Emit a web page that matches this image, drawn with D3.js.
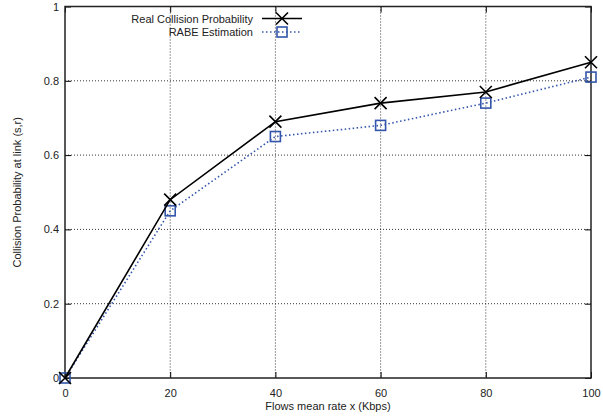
<!DOCTYPE html>
<html><head><meta charset="utf-8">
<script src="https://cdn.jsdelivr.net/npm/d3@7"></script>
<style>body{margin:0;background:#fff}svg{display:block;font-family:"Liberation Sans",Arial,sans-serif}</style>
</head><body><svg id="c" width="603" height="418"></svg>
<script>
const xValues = [0, 20, 40, 60, 80, 100];
const realProb = [0, 0.48, 0.69, 0.74, 0.77, 0.85];
const rabeEst = [0, 0.45, 0.65, 0.68, 0.74, 0.81];
const xTicks = [0, 20, 40, 60, 80, 100];
const yTicks = [0, 0.2, 0.4, 0.6, 0.8, 1];
const seriesNames = ["Real Collision Probability", "RABE Estimation"];

const svg = d3.select("#c");
const L = 65, R = 591, T = 6.5, B = 378;
const x = d3.scaleLinear().domain([0, 100]).range([L, R]);
const y = d3.scaleLinear().domain([0, 1]).range([B, T]);
const blue = "#3355aa";

// grid
const g = svg.append("g");
g.selectAll(".gx").data(xTicks.slice(1, -1)).join("line")
  .attr("x1", d => x(d)).attr("x2", d => x(d)).attr("y1", T).attr("y2", B)
  .attr("stroke", "#000").attr("stroke-width", 0.8).attr("stroke-dasharray", "1,2");
g.selectAll(".gy").data(yTicks.slice(1, -1)).join("line")
  .attr("y1", d => y(d)).attr("y2", d => y(d)).attr("x1", L).attr("x2", R)
  .attr("stroke", "#000").attr("stroke-width", 0.8).attr("stroke-dasharray", "1,2");

// axes with inward ticks
const ax = d3.axisBottom(x).tickValues(xTicks).tickSizeInner(-6).tickSizeOuter(0).tickPadding(11).tickFormat(d3.format("d"));
const ay = d3.axisLeft(y).tickValues(yTicks).tickSizeInner(-6).tickSizeOuter(0).tickPadding(6).tickFormat(d => d === 0 ? "0" : d === 1 ? "1" : d3.format(".1f")(d));
const axT = d3.axisTop(x).tickValues(xTicks).tickSizeInner(-6).tickSizeOuter(0).tickFormat("");
const ayR = d3.axisRight(y).tickValues(yTicks).tickSizeInner(-6).tickSizeOuter(0).tickFormat("");
function style(sel) {
  sel.select(".domain").remove();
  sel.selectAll("line").attr("stroke", "#000").attr("stroke-width", 1);
  sel.selectAll("text").attr("font-size", 11).attr("fill", "#222").attr("font-family", "Liberation Sans, Arial, sans-serif");
}
svg.append("g").attr("transform", `translate(0,${B})`).call(ax).call(style);
svg.append("g").attr("transform", `translate(${L},0)`).call(ay).call(style);
svg.append("g").attr("transform", `translate(0,${T})`).call(axT).call(style);
svg.append("g").attr("transform", `translate(${R},0)`).call(ayR).call(style);

// frame
svg.append("rect").attr("x", L).attr("y", T).attr("width", R - L).attr("height", B - T)
  .attr("fill", "none").attr("stroke", "#222").attr("stroke-width", 1.5);

// labels
svg.append("text").attr("x", (L + R) / 2).attr("y", 410).attr("text-anchor", "middle")
  .attr("font-size", 11).attr("fill", "#222").text("Flows mean rate x (Kbps)");
svg.append("text").attr("transform", `translate(21,${(T + B) / 2}) rotate(-90)`).attr("text-anchor", "middle")
  .attr("font-size", 11).attr("fill", "#222").text("Collision Probability at link (s,r)");

const line = d3.line().x(d => x(d[0])).y(d => y(d[1]));
const realPts = xValues.map((v, i) => [v, realProb[i]]);
const rabePts = xValues.map((v, i) => [v, rabeEst[i]]);

function cross(sel, cx, cy) {
  const s = 6;
  sel.append("path").attr("d", `M${cx - s},${cy - s}L${cx + s},${cy + s}M${cx - s},${cy + s}L${cx + s},${cy - s}`)
    .attr("stroke", "#000").attr("stroke-width", 1.6).attr("fill", "none");
}
function square(sel, cx, cy) {
  const s = 5;
  sel.append("rect").attr("x", cx - s).attr("y", cy - s).attr("width", 2 * s).attr("height", 2 * s)
    .attr("fill", "none").attr("stroke", blue).attr("stroke-width", 1.6);
}

// RABE series
svg.append("path").datum(rabePts).attr("d", line).attr("fill", "none")
  .attr("stroke", blue).attr("stroke-width", 1.6).attr("stroke-dasharray", "1.5,2.5");
const mk2 = svg.append("g");
rabePts.forEach(p => square(mk2, x(p[0]), y(p[1])));

// Real series
svg.append("path").datum(realPts).attr("d", line).attr("fill", "none")
  .attr("stroke", "#000").attr("stroke-width", 1.6);
const mk1 = svg.append("g");
realPts.forEach(p => cross(mk1, x(p[0]), y(p[1])));

// legend
const leg = svg.append("g");
const ly = [18.5, 32];
seriesNames.forEach((n, i) => {
  leg.append("text").attr("x", 253).attr("y", ly[i] + 4).attr("text-anchor", "end")
    .attr("font-size", 11).attr("fill", "#222").text(n);
  const ln = leg.append("line").attr("x1", 262).attr("x2", 302).attr("y1", ly[i]).attr("y2", ly[i])
    .attr("stroke-width", 1.6);
  if (i === 0) { ln.attr("stroke", "#000"); cross(leg, 282, ly[i]); }
  else { ln.attr("stroke", blue).attr("stroke-dasharray", "1.5,2.5"); square(leg, 282, ly[i]); }
});
</script></body></html>
